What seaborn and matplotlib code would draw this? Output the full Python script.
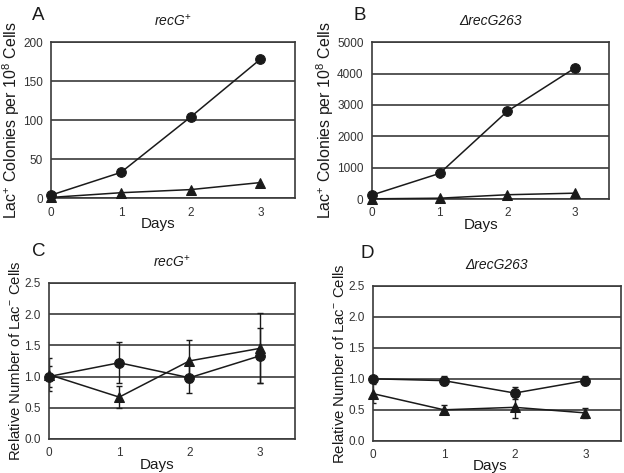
import numpy as np
import pandas as pd
import matplotlib
matplotlib.use("Agg")
import matplotlib.pyplot as plt
import seaborn as sns

sns.set_style("white")
plt.rcParams['font.family'] = ['Liberation Sans', 'DejaVu Sans']
plt.rcParams['mathtext.fontset'] = 'custom'
plt.rcParams['mathtext.rm'] = 'Liberation Sans'
plt.rcParams['mathtext.it'] = 'Liberation Sans:italic'

days = [0, 1, 2, 3]

# panel A: recG+ Lac+ colonies
a_circle = [4, 33, 104, 178]
a_triangle = [1, 7, 11, 20]
# panel B: delta recG263 Lac+ colonies
b_circle = [130, 820, 2800, 4180]
b_triangle = [10, 30, 140, 190]
# panel C: recG+ relative Lac- cells
c_circle = [1.00, 1.22, 0.98, 1.33]
c_circle_err = [0.17, 0.33, 0.24, 0.44]
c_triangle = [1.03, 0.67, 1.25, 1.45]
c_triangle_err = [0.27, 0.17, 0.33, 0.56]
# panel D: delta recG263 relative Lac- cells
d_circle = [1.00, 0.97, 0.77, 0.97]
d_circle_err = [0.03, 0.07, 0.10, 0.07]
d_triangle = [0.76, 0.50, 0.54, 0.45]
d_triangle_err = [0.15, 0.07, 0.17, 0.08]

ink = "#1a1a1a"
grid = "#3a3a3a"

fig = plt.figure(figsize=(6.24, 4.73), dpi=100)
axA = fig.add_axes([0.082, 0.581, 0.391, 0.330])
axB = fig.add_axes([0.596, 0.579, 0.380, 0.332])
axC = fig.add_axes([0.0785, 0.072, 0.394, 0.330])
axD = fig.add_axes([0.598, 0.068, 0.397, 0.328])


def draw(ax, circ, tri, circ_err=None, tri_err=None):
    df = pd.DataFrame({"day": days * 2,
                       "value": list(circ) + list(tri),
                       "kind": ["circle"] * 4 + ["triangle"] * 4})
    sns.lineplot(data=df, x="day", y="value", style="kind",
                 markers={"circle": "o", "triangle": "^"},
                 dashes=False, color=ink, lw=1.1, markersize=7,
                 markeredgecolor=ink, legend=False, ax=ax, zorder=3,
                 clip_on=False)
    if circ_err is not None:
        ax.errorbar(days, circ, yerr=circ_err, fmt="none", ecolor=ink,
                    elinewidth=1.0, capsize=2, capthick=1.0, zorder=2)
        ax.errorbar(days, tri, yerr=tri_err, fmt="none", ecolor=ink,
                    elinewidth=1.0, capsize=2, capthick=1.0, zorder=2)


def style(ax, ymax, ystep, letter, lpos, title, ylabel, fmt, xlab_x, ysize):
    ax.set_xlim(0, 3.5)
    ax.set_ylim(0, ymax)
    ax.set_xticks(days)
    yt = np.arange(0, ymax + ystep / 2, ystep)
    ax.set_yticks(yt)
    ax.set_yticklabels([fmt.format(v) for v in yt])
    ax.yaxis.grid(True, color=grid, lw=1.2)
    ax.set_axisbelow(True)
    for s in ax.spines.values():
        s.set_color(grid)
        s.set_linewidth(1.2)
    ax.tick_params(axis="both", labelsize=8.5, colors="#333333", length=0, pad=6)
    ax.set_xlabel("Days", fontsize=11, labelpad=-1, color=ink)
    ax.xaxis.set_label_coords(xlab_x, -0.12)
    ax.set_ylabel(ylabel, fontsize=ysize, color=ink, labelpad=1)
    ax.set_title(title, fontsize=10, style="italic", pad=12, color=ink)
    ax.text(lpos[0], lpos[1], letter, transform=ax.transAxes, fontsize=13.5,
            color=ink, ha="left", va="center")


draw(axA, a_circle, a_triangle)
draw(axB, b_circle, b_triangle)
draw(axC, c_circle, c_triangle, c_circle_err, c_triangle_err)
draw(axD, d_circle, d_triangle, d_circle_err, d_triangle_err)

col_label = "Lac$^{+}$ Colonies per 10$^{8}$ Cells"
rel_label = "Relative Number of Lac$^{-}$ Cells"
style(axA, 200, 50, "A", (-0.08, 1.17), "recG$^{+}$", col_label, "{:.0f}", 0.44, 11.5)
style(axB, 5000, 1000, "B", (-0.077, 1.17), "\u0394recG263", col_label, "{:.0f}", 0.46, 11.5)
style(axC, 2.5, 0.5, "C", (-0.07, 1.2), "recG$^{+}$", rel_label, "{:.1f}", 0.44, 10.7)
style(axD, 2.5, 0.5, "D", (-0.053, 1.21), "\u0394recG263", rel_label, "{:.1f}", 0.47, 10.7)

fig.savefig("out.png", dpi=100)
